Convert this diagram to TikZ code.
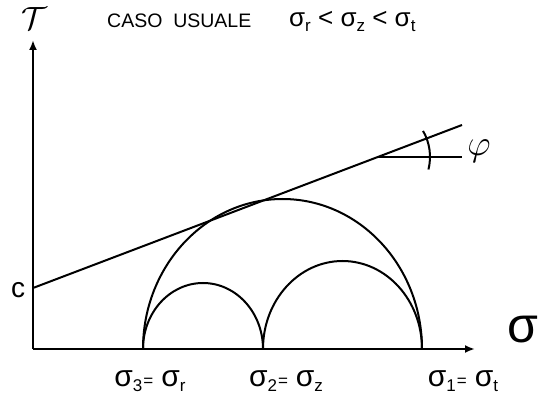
\documentclass[tikz,border=0pt]{standalone}
\usepackage{fontspec}
\setmainfont{Liberation Sans}
\usetikzlibrary{arrows.meta,calc}
\newcommand{\sgm}[1]{σ\raisebox{-5pt}{\fontsize{17}{17}\selectfont #1}}
\newcommand{\eqs}{\hspace{1pt}{\fontsize{17}{17}\selectfont=}\hspace{8pt}}
\begin{document}
\begin{tikzpicture}[x=1pt,y=-1pt,
  axis/.style={line width=2.3pt,-{Latex[length=10pt,width=8pt]}},
  curve/.style={line width=2pt},
  lbl/.style={font=\fontsize{30}{32}\selectfont,inner sep=0pt}]
\useasboundingbox (0,0) rectangle (560,398);
\coordinate (O) at (33,349);
\coordinate (Xe) at (475,349);
\coordinate (Ye) at (33,40);
\coordinate (C) at (33,288);
\coordinate (Te) at (462,125);
\coordinate (P) at (378,156.9);
\coordinate (He) at (462,156.9);
\coordinate (A) at (143,349);
\coordinate (B) at (263,349);
% axes
\draw[axis] (O) -- (Ye);
\draw[axis] (O) -- (Xe);
% Mohr circles
\draw[curve] (A) arc[start angle=180,end angle=360,x radius=60,y radius=66];
\draw[curve] (B) arc[start angle=180,end angle=360,x radius=79.5,y radius=88];
\draw[curve] (A) arc[start angle=180,end angle=360,x radius=139.5,y radius=150];
% envelope
\draw[curve] (C) -- (Te);
\draw[line width=1.4pt] (P) -- (He);
\draw[curve] ($(P)+(-30:52)$) arc[start angle=-30,end angle=14,radius=52];
% labels
\node[inner sep=0pt] (tau) at (34,19) {\scalebox{1.55}{\fontsize{20}{20}\selectfont$\mathcal{T}$}};
\node[inner sep=0pt,anchor=west] (title) at (107,21) {\fontsize{19.5}{20}\selectfont CASO\ \ USUALE};
\node[lbl,anchor=west] (ineq) at (289,21) {\fontsize{26}{28}\selectfont\sgm{r}\ <\ \sgm{z}\ <\ \sgm{t}};
\node[inner sep=0pt] (phi) at (479,151) {\scalebox{1.75}{\fontsize{20}{20}\selectfont$\varphi$}};
\node[inner sep=0pt] (sig) at (523,330) {\fontsize{50}{50}\selectfont σ};
\node[inner sep=0pt] (cc) at (18,290) {\fontsize{28}{28}\selectfont c};
\node[lbl] (s3) at (150,381) {\sgm{3}\eqs\sgm{r}};
\node[lbl] (s2) at (286,381) {\sgm{2}\eqs\sgm{z}};
\node[lbl] (s1) at (463,381) {\sgm{1}\eqs\sgm{t}};
\end{tikzpicture}
\end{document}
